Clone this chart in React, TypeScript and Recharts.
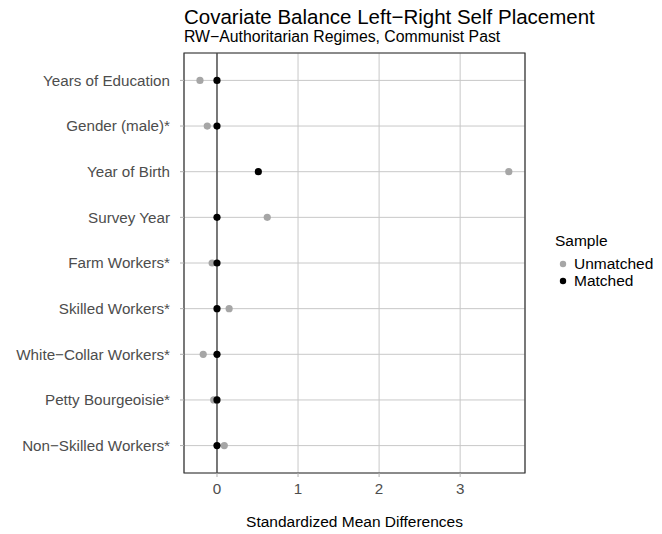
import React from 'react';
import {
  ScatterChart, Scatter, XAxis, YAxis, CartesianGrid, ReferenceLine, ReferenceArea,
} from 'recharts';

const categories = [
  'Years of Education',
  'Gender (male)*',
  'Year of Birth',
  'Survey Year',
  'Farm Workers*',
  'Skilled Workers*',
  'White\u2212Collar Workers*',
  'Petty Bourgeoisie*',
  'Non\u2212Skilled Workers*',
];
const unmatchedValues = [-0.21, -0.12, 3.6, 0.62, -0.06, 0.15, -0.17, -0.04, 0.09];
const matchedValues = [0.0, 0.0, 0.51, 0.0, 0.0, 0.0, 0.0, 0.0, 0.0];
const xTicks = [0, 1, 2, 3];
const seriesNames = ['Unmatched', 'Matched'];

const FONT = '"Liberation Sans", Arial, Helvetica, sans-serif';
const GRAY_PT = '#a6a6a6';
const seriesColors = [GRAY_PT, '#000'];

const unmatchedData = categories.map((c, i) => ({ name: c, x: unmatchedValues[i], y: i + 1 }));
const matchedData = categories.map((c, i) => ({ name: c, x: matchedValues[i], y: i + 1 }));
const yTicks = categories.map((_, i) => i + 1);

const Dot = (color: string) => (props: any) => (
  <circle cx={props.cx} cy={props.cy} r={3.6} fill={color} />
);

const LegendBox = () => (
  <div style={{ position: 'absolute', left: 555, top: 232, fontFamily: FONT, color: '#000' }}>
    <div style={{ fontSize: 15.5, lineHeight: '18px', marginBottom: 5 }}>Sample</div>
    {seriesNames.map((n, i) => (
      <div key={n} style={{ display: 'flex', alignItems: 'center', height: 17, lineHeight: '17px', fontSize: 15.5, color: '#000', whiteSpace: 'nowrap' }}>
        <svg width={16} height={16} style={{ display: 'block' }}>
          <circle cx={8} cy={8} r={3.2} fill={seriesColors[i]} />
        </svg>
        <span style={{ marginLeft: 3 }}>{n}</span>
      </div>
    ))}
  </div>
);

export default function App() {
  return (
    <div style={{ position: 'absolute', left: 0, top: 0, width: 662, height: 534, background: '#fff', overflow: 'hidden' }}>
      <div style={{ position: 'absolute', left: 184, top: 5, fontFamily: FONT, fontSize: 20.5, color: '#000', whiteSpace: 'nowrap', lineHeight: '24px' }}>
        Covariate Balance Left{'\u2212'}Right Self Placement
      </div>
      <div style={{ position: 'absolute', left: 184, top: 28, fontFamily: FONT, fontSize: 15.8, color: '#000', whiteSpace: 'nowrap', lineHeight: '18px' }}>
        RW{'\u2212'}Authoritarian Regimes, Communist Past
      </div>
      <div style={{ position: 'absolute', left: 184, width: 341, top: 513, textAlign: 'center', fontFamily: FONT, fontSize: 15.5, color: '#000', lineHeight: '18px' }}>
        Standardized Mean Differences
      </div>
      <ScatterChart
        width={662}
        height={534}
        margin={{ top: 53, right: 137, bottom: 0, left: 0 }}
        style={{ fontFamily: FONT }}
      >
        <CartesianGrid stroke="#c8c8c8" strokeWidth={1} />
        <XAxis
          type="number"
          dataKey="x"
          domain={[-0.407, 3.8]}
          ticks={xTicks}
          allowDataOverflow
          height={61}
          axisLine={false}
          tickSize={4}
          tickMargin={6}
          tickLine={{ stroke: '#b0b0b0' }}
          tick={{ fill: '#4d4d4d', fontSize: 15.2, fontFamily: FONT }}
        />
        <YAxis
          type="number"
          dataKey="y"
          domain={[0.4, 9.6]}
          reversed
          ticks={yTicks}
          allowDataOverflow
          width={184}
          axisLine={false}
          tickSize={4}
          tickMargin={10}
          tickLine={{ stroke: '#b0b0b0' }}
          tickFormatter={(v: number) => categories[v - 1] ?? ''}
          tick={{ fill: '#4d4d4d', fontSize: 15.2, fontFamily: FONT }}
        />
        <ReferenceLine x={0} stroke="#4a4a4a" strokeWidth={1.4} />
        <Scatter name={seriesNames[0]} data={unmatchedData} fill={GRAY_PT} shape={Dot(GRAY_PT)} isAnimationActive={false} />
        <Scatter name={seriesNames[1]} data={matchedData} fill="#000" shape={Dot('#000')} isAnimationActive={false} />
        <ReferenceArea x1={-0.407} x2={3.8} y1={0.4} y2={9.6} fill="none" stroke="#333" strokeWidth={1.2} ifOverflow="visible" />
      </ScatterChart>
      <LegendBox />
    </div>
  );
}
